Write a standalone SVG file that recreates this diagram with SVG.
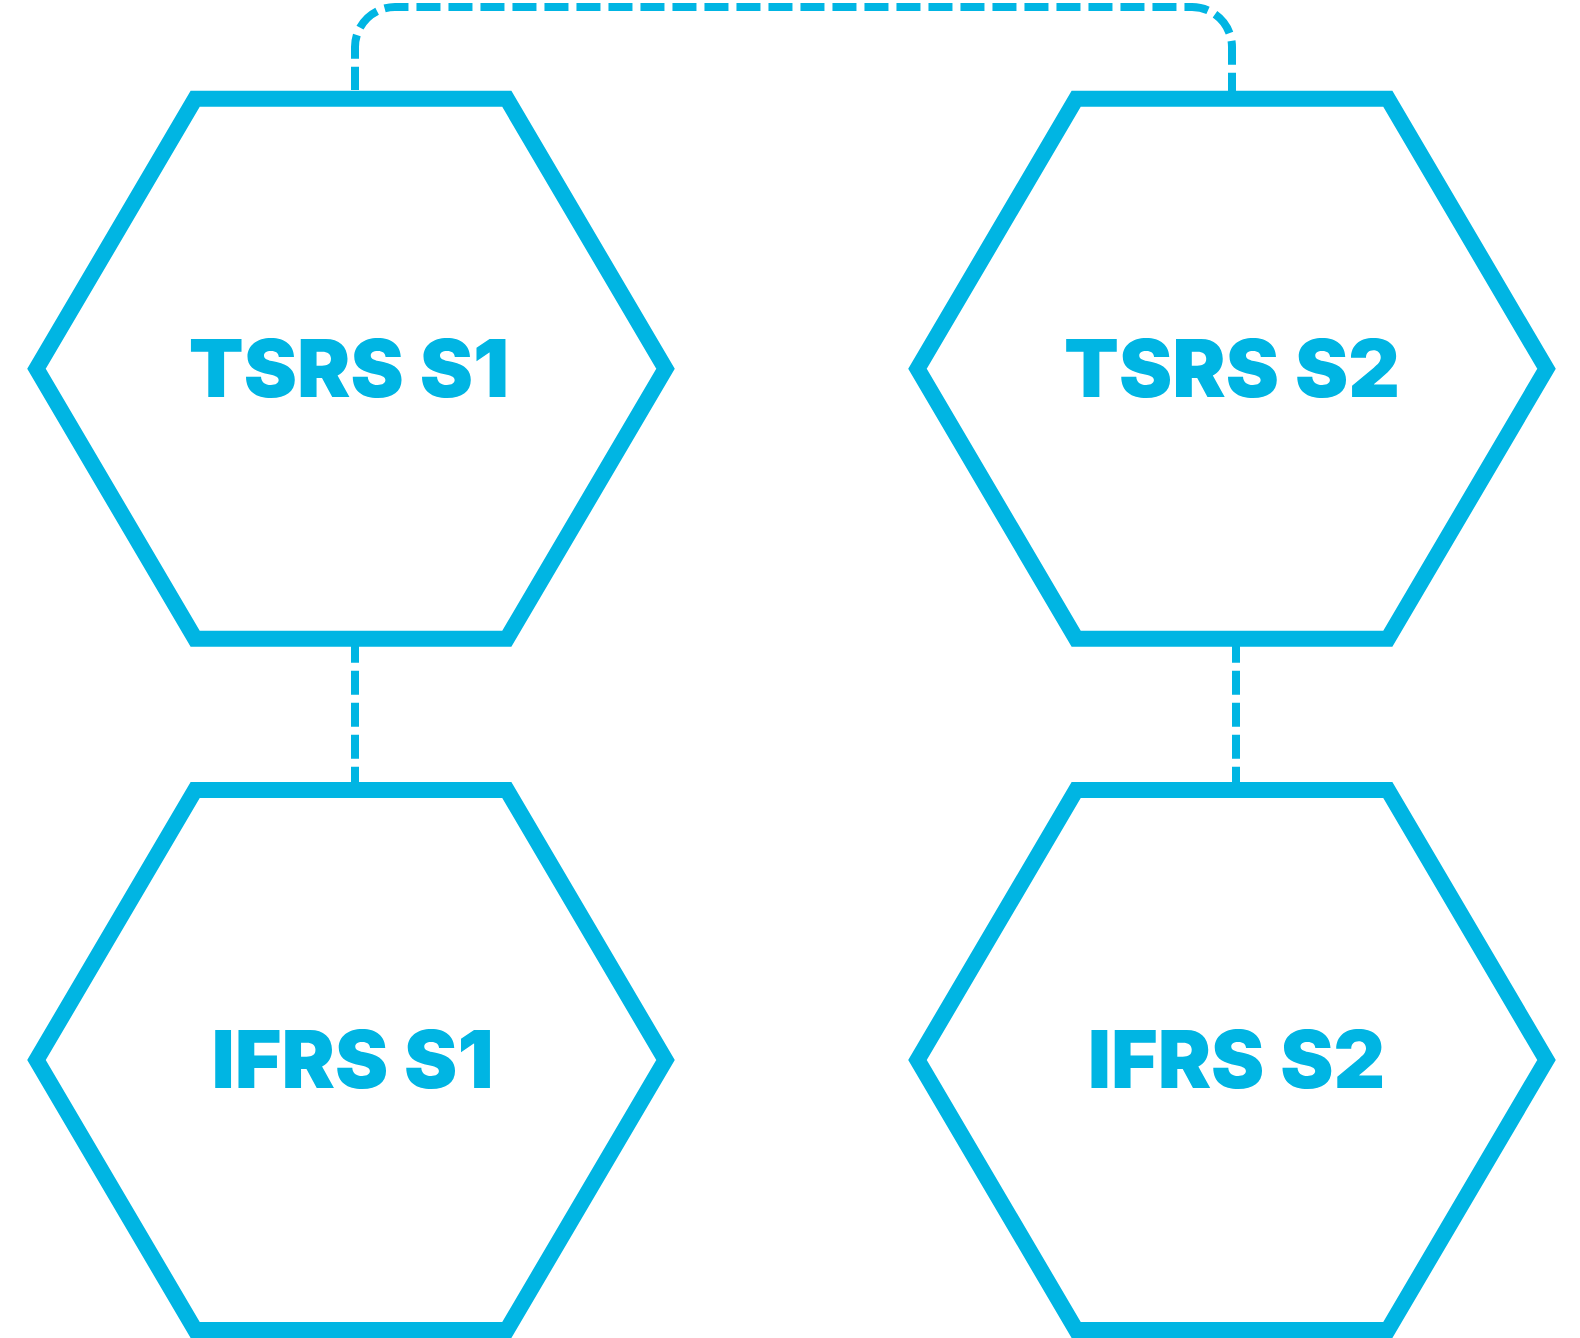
<svg xmlns="http://www.w3.org/2000/svg" width="1580" height="1338" viewBox="0 0 1580 1338">
<style>
.hex{fill:#ffffff;stroke:#00B5E3;stroke-width:16;stroke-linejoin:miter;stroke-miterlimit:10}
.conn{fill:none;stroke:#00B5E3;stroke-width:8;stroke-dasharray:24 8}
.lbl{font-family:Inter,"Liberation Sans",sans-serif;font-weight:900;font-size:80px;fill:#00B5E3;text-anchor:middle}
</style>
<rect width="1580" height="1338" fill="#ffffff"/>
<g id="connectors">
<path class="conn" stroke-dashoffset="0.8" d="M355,90 V47 A40,40 0 0 1 395,7 H1192 A40,40 0 0 1 1232,47 V98.8"/>
<path class="conn" d="M355,638.8 V790"/>
<path class="conn" d="M1236,638.8 V790"/>
</g>
<g id="tsrs-s1">
<polygon class="hex" points="195.2,98.8 506.8,98.8 665.5,368.8 506.8,638.8 195.2,638.8 36.5,368.8"/>
<text class="lbl" x="349" y="397">TSRS S1</text>
</g>
<g id="tsrs-s2">
<polygon class="hex" points="1076.2,98.8 1387.8,98.8 1546.5,368.8 1387.8,638.8 1076.2,638.8 917.5,368.8"/>
<text class="lbl" x="1232" y="397">TSRS S2</text>
</g>
<g id="ifrs-s1">
<polygon class="hex" points="195.2,790 506.8,790 665.5,1060 506.8,1330 195.2,1330 36.5,1060"/>
<text class="lbl" x="352.5" y="1088.3">IFRS S1</text>
</g>
<g id="ifrs-s2">
<polygon class="hex" points="1076.2,790 1387.8,790 1546.5,1060 1387.8,1330 1076.2,1330 917.5,1060"/>
<text class="lbl" x="1236.5" y="1088.3">IFRS S2</text>
</g>
</svg>
